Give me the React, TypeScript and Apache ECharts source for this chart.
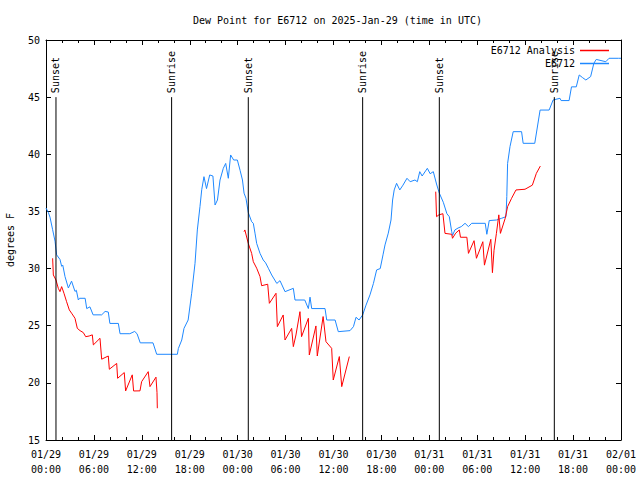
import React, { useEffect, useRef } from "react";
import * as echarts from "echarts";

const FONT = "DejaVu Sans Mono";

const titleText = "Dew Point for E6712 on 2025-Jan-29 (time in UTC)";
const yAxisName = "degrees F";

const xTickLabels = [
  "01/29\n00:00", "01/29\n06:00", "01/29\n12:00", "01/29\n18:00",
  "01/30\n00:00", "01/30\n06:00", "01/30\n12:00", "01/30\n18:00",
  "01/31\n00:00", "01/31\n06:00", "01/31\n12:00", "01/31\n18:00",
  "02/01\n00:00",
];

// hours since 2025-01-29 00:00 UTC
const obsHours = [
  0.0, 0.3, 0.5, 0.83, 1.13, 1.33, 1.75, 1.96, 2.1, 2.38, 2.8, 3.2, 3.63, 3.8, 4.05, 4.2, 4.9, 5.1, 5.5, 5.9,
  6.97, 7.4, 7.8, 8.0, 9.06, 9.27, 10.5, 11.1, 11.4, 11.8, 13.4, 13.86, 16.45, 16.57, 17.0, 17.28, 17.8, 18.24,
  18.66, 18.95, 19.28, 19.5, 19.78, 20.1, 20.5, 20.9, 21.17, 21.47, 21.79, 22.2, 22.5, 22.83, 23.12, 23.5, 23.96,
  24.3, 24.6, 24.8, 25.04, 25.33, 25.75, 25.96, 26.17, 26.38, 26.8, 27.2, 27.5, 27.84, 28.26, 28.9, 29.3, 29.93,
  30.97, 31.18, 32.4, 32.85, 33.06, 33.27, 34.94, 35.15, 36.2, 36.6, 38.07, 38.5, 38.82, 39.2, 39.65, 40.07,
  40.57, 41.0, 41.4, 41.85, 42.2, 42.45, 42.86, 43.2, 43.4, 43.6, 43.9, 44.3, 44.7, 45.2, 45.6, 46.2, 46.5,
  46.8, 47.1, 47.75, 48.1, 48.5, 48.9, 49.25, 49.75, 50.2, 50.5, 50.8, 50.9, 51.2, 51.6, 52.0, 52.47, 52.9,
  53.3, 55.0, 55.2, 55.5, 56.4, 57.05, 57.6, 57.7, 57.8, 58.1, 58.5, 59.55, 59.75, 61.2, 61.87, 63.0, 63.5,
  64.36, 64.5, 65.5, 65.8, 66.4, 66.77, 67.2, 67.6, 68.2, 68.6, 68.9, 70.1, 70.5, 71.7, 72.0,
];
const obsValues = [
  35.3, 34.9, 34.5, 33.4, 32.4, 31.2, 30.8, 30.2, 30.3, 29.3, 28.3, 28.9, 28.0, 28.1, 27.25, 27.4, 27.4, 26.5, 26.65, 25.95,
  25.95, 26.25, 26.2, 25.2, 25.2, 24.3, 24.3, 24.5, 24.3, 23.5, 23.5, 22.5, 22.5, 23.0, 23.75, 24.77, 25.5, 27.84,
  30.46, 33.38, 35.42, 36.9, 38.04, 37.0, 38.19, 38.1, 35.56, 36.0, 37.75, 38.77, 39.2, 37.9, 39.94, 39.5, 39.5,
  38.6, 37.75, 36.6, 36.15, 34.9, 34.1, 33.96, 33.1, 32.2, 31.33, 30.75, 30.5, 30.03, 29.44, 28.7, 28.94, 27.98,
  28.27, 27.25, 27.25, 26.5, 27.5, 26.5, 26.5, 25.5, 25.5, 24.48, 24.57, 24.92, 25.74, 25.5, 25.94, 26.8,
  27.7, 28.7, 29.88, 30.0, 31.2, 32.07, 33.1, 34.25, 36.0, 36.88, 37.46, 36.88, 37.3, 37.9, 37.6, 37.75, 37.6,
  38.48, 38.1, 38.77, 38.3, 38.48, 37.4, 36.6, 35.8, 34.8, 34.54, 33.23, 32.9, 33.38, 33.55, 33.67, 33.96, 33.67,
  33.96, 33.96, 33.0, 34.2, 34.25, 34.4, 34.54, 36.3, 39.2, 40.67, 41.98, 41.98, 40.96, 40.96, 43.87, 43.87, 44.75,
  44.9, 44.7, 44.7, 45.9, 45.9, 46.94, 46.7, 46.5, 46.8, 47.96, 48.3, 48.1, 48.4, 48.4, 48.4,
];

// analysis series; null marks a gap
const anaHours = [
  0.83, 0.92, 1.25, 1.54, 1.75, 1.96, 2.25, 2.58, 2.92, 3.2, 3.63, 3.92, 4.26, 4.67, 4.97, 5.4, 5.8, 5.93, 6.76,
  6.97, 7.8, 7.93, 8.85, 8.97, 9.8, 9.97, 10.8, 10.97, 11.77, 11.97, 12.8, 13.02, 13.77, 13.9, 13.94,
  19.0,
  24.8, 24.9, 25.33, 25.75, 25.96, 26.38, 26.8, 27.0, 27.76, 27.97, 28.8, 28.97, 29.7, 29.93, 30.76, 30.97, 31.3,
  31.8, 32.0, 32.85, 32.97, 33.8, 33.97, 34.7, 35.06, 35.77, 35.97, 36.73, 37.03, 37.98,
  43.0,
  48.8, 48.9, 49.2, 49.7, 49.96, 50.8, 50.9, 51.3, 51.75, 51.9, 52.7, 52.9, 53.6, 53.9, 54.7, 54.9, 55.7, 55.9,
  56.1, 56.4, 56.7, 56.9, 57.5, 57.8, 58.3, 58.85, 59.98, 60.9, 61.4, 61.9,
];
const anaValues = [
  30.9, 29.44, 29.0, 28.27, 27.98, 28.42, 27.84, 27.1, 26.38, 26.1, 25.65, 24.77, 24.57, 24.4, 24.04, 24.1, 24.2, 23.32, 23.9,
  22.07, 22.35, 21.19, 21.7, 20.4, 20.9, 19.29, 20.7, 19.29, 19.3, 20.1, 20.98, 19.67, 20.5, 19.15, 17.78,
  null,
  33.23, 33.38, 32.2, 31.33, 30.6, 30.03, 29.3, 28.5, 28.63, 26.96, 27.84, 24.92, 25.94, 23.75, 24.77, 23.17, 24.19,
  26.23, 24.04, 25.65, 22.44, 24.98, 22.35, 25.8, 23.6, 23.02, 20.25, 22.3, 19.67, 22.3,
  null,
  36.73, 34.54, 34.7, 34.8, 33.08, 33.0, 32.65, 33.1, 33.38, 32.74, 32.74, 31.33, 32.44, 30.9, 32.35, 30.3, 32.56, 29.64,
  31.6, 33.08, 34.7, 33.08, 34.4, 35.42, 36.15, 36.88, 36.94, 37.3, 38.33, 38.97,
];

const sunHours = [1.25, 15.73, 25.33, 39.65, 49.25, 63.65];
const sunLabels = ["Sunset", "Sunrise", "Sunset", "Sunrise", "Sunset", "Sunrise"];
const sunLineTop = 45;
const sunLineBottom = 15;

const BLUE = "#1e88ff";
const RED = "#ff0000";

export default function App() {
  const ref = useRef<HTMLDivElement>(null);
  useEffect(() => {
    if (!ref.current) return;
    const chart = echarts.init(ref.current, null, { renderer: "svg" });
    const axisText = { fontFamily: FONT, fontSize: 10, color: "#000" };
    const baseX = {
      type: "value" as const,
      min: 0,
      max: 72,
      interval: 6,
      axisLine: { show: true, onZero: false, lineStyle: { color: "#000", width: 1 } },
      axisTick: { show: true, inside: true, length: 5, lineStyle: { color: "#000" } },
      minorTick: { show: true, splitNumber: 3, length: 3, lineStyle: { color: "#000" } },
      splitLine: { show: false },
      minorSplitLine: { show: false },
    };
    const baseY = {
      type: "value" as const,
      min: 15,
      max: 50,
      interval: 5,
      axisLine: { show: true, onZero: false, lineStyle: { color: "#000", width: 1 } },
      axisTick: { show: true, inside: true, length: 5, lineStyle: { color: "#000" } },
      splitLine: { show: false },
    };
    chart.setOption({
      animation: false,
      backgroundColor: "#fff",
      title: {
        text: titleText,
        left: 188,
        top: 10,
        textStyle: { fontFamily: FONT, fontSize: 10, fontWeight: "normal", color: "#000" },
      },
      legend: {
        orient: "vertical",
        right: 26,
        top: 40,
        align: "right",
        icon: "rect",
        itemWidth: 29,
        itemHeight: 1.5,
        itemGap: 2,
        data: ["E6712 Analysis", "E6712"],
        textStyle: { fontFamily: FONT, fontSize: 10, color: "#000", lineHeight: 11 },
      },
      grid: { left: 46, right: 19, top: 40, bottom: 40, containLabel: false, outerBoundsMode: "none" },
      xAxis: [
        {
          ...baseX,
          position: "bottom",
          axisLabel: {
            ...axisText,
            margin: 7,
            lineHeight: 15,
            formatter: (v: number) => xTickLabels[Math.round(v / 6)] ?? "",
          },
        },
        { ...baseX, position: "top", axisLabel: { show: false } },
      ],
      yAxis: [
        {
          ...baseY,
          position: "left",
          name: yAxisName,
          nameLocation: "middle",
          nameGap: 31,
          nameTextStyle: { fontFamily: FONT, fontSize: 10, color: "#000" },
          axisLabel: { ...axisText, margin: 6 },
        },
        { ...baseY, position: "right", axisLabel: { show: false } },
      ],
      series: [
        {
          name: "E6712",
          type: "line",
          data: obsHours.map((h, i) => [h, obsValues[i]]),
          showSymbol: false,
          symbol: "none",
          color: BLUE,
          lineStyle: { color: BLUE, width: 1 },
          z: 3,
        },
        {
          name: "E6712 Analysis",
          type: "line",
          data: anaHours.map((h, i) => [h, anaValues[i]]),
          showSymbol: false,
          symbol: "none",
          connectNulls: false,
          color: RED,
          lineStyle: { color: RED, width: 1 },
          z: 4,
        },
        {
          name: "sun",
          type: "custom",
          data: sunHours.map((h) => [h, sunLineTop]),
          z: 5,
          silent: true,
          renderItem: (params: any, api: any) => {
            const h = api.value(0);
            const top = api.coord([h, sunLineTop]);
            const bot = api.coord([h, sunLineBottom]);
            return {
              type: "group",
              children: [
                {
                  type: "line",
                  shape: { x1: top[0], y1: top[1], x2: bot[0], y2: bot[1] },
                  style: { stroke: "#000", lineWidth: 1 },
                },
                {
                  type: "text",
                  x: top[0],
                  y: top[1] - 4,
                  rotation: Math.PI / 2,
                  style: {
                    text: sunLabels[params.dataIndex],
                    fill: "#000",
                    font: `10px "${FONT}"`,
                    align: "left",
                    verticalAlign: "middle",
                    textAlign: "left",
                    textVerticalAlign: "middle",
                  },
                },
              ],
            };
          },
        },
      ],
    });
    return () => chart.dispose();
  }, []);
  return (
    <div
      ref={ref}
      style={{ position: "fixed", left: 0, top: 0, width: 640, height: 480, background: "#fff" }}
    />
  );
}
